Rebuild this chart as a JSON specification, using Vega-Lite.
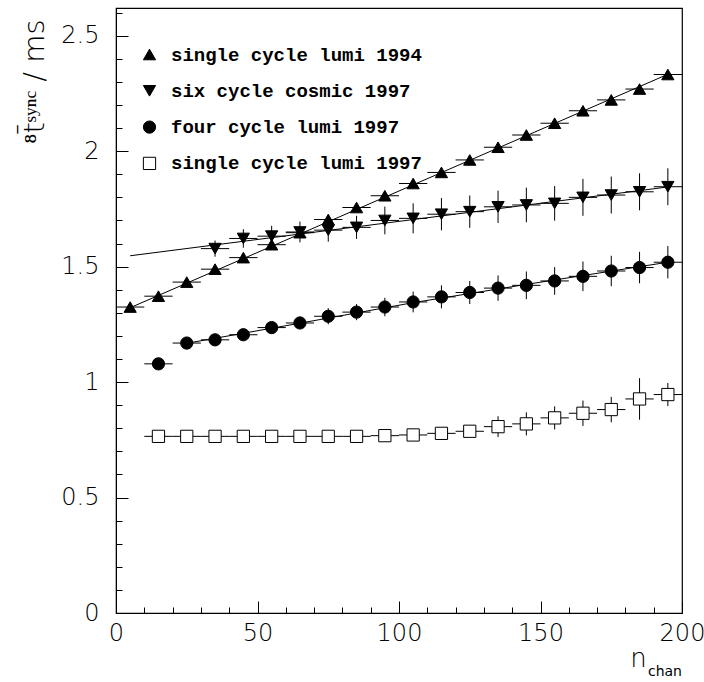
{
  "$schema": "https://vega.github.io/schema/vega-lite/v6.json",
  "width": 566,
  "height": 605,
  "autosize": "none",
  "padding": {"left": 116, "top": 8, "right": 22, "bottom": 69},
  "background": "white",
  "title": {"text": "chan", "orient": "bottom", "anchor": "end", "frame": "group", "fontSize": 14, "font": "DejaVu Sans", "fontWeight": "normal", "color": "black", "offset": -6},
  "config": {
    "view": {"stroke": "black", "strokeWidth": 1.2},
    "axis": {"grid": false, "domainColor": "black", "tickColor": "black", "labelColor": "black", "titleColor": "black", "labelFont": "DejaVu Sans", "titleFont": "DejaVu Sans", "labelFontWeight": 300, "titleFontWeight": 300, "labelOverlap": false, "labelFlush": false, "tickCount": 200},
    "legend": {"labelFont": "Liberation Mono", "labelFontWeight": "bold", "labelFontSize": 19, "labelLimit": 500, "labelColor": "black", "symbolStrokeWidth": 1, "symbolSize": 150, "rowPadding": 16.3, "labelOffset": 12, "padding": 0, "symbolOpacity": 1}
  },
  "datasets": {
    "points": [
      {"series": "single cycle lumi 1994", "x": 5, "y": 1.325, "xe": 5, "ye": 0.004},
      {"series": "single cycle lumi 1994", "x": 15, "y": 1.372, "xe": 5, "ye": 0.004},
      {"series": "single cycle lumi 1994", "x": 25, "y": 1.433, "xe": 5, "ye": 0.004},
      {"series": "single cycle lumi 1994", "x": 35, "y": 1.489, "xe": 5, "ye": 0.004},
      {"series": "single cycle lumi 1994", "x": 45, "y": 1.539, "xe": 5, "ye": 0.004},
      {"series": "single cycle lumi 1994", "x": 55, "y": 1.595, "xe": 5, "ye": 0.004},
      {"series": "single cycle lumi 1994", "x": 65, "y": 1.647, "xe": 5, "ye": 0.004},
      {"series": "single cycle lumi 1994", "x": 75, "y": 1.704, "xe": 5, "ye": 0.004},
      {"series": "single cycle lumi 1994", "x": 85, "y": 1.756, "xe": 5, "ye": 0.004},
      {"series": "single cycle lumi 1994", "x": 95, "y": 1.807, "xe": 5, "ye": 0.004},
      {"series": "single cycle lumi 1994", "x": 105, "y": 1.86, "xe": 5, "ye": 0.004},
      {"series": "single cycle lumi 1994", "x": 115, "y": 1.908, "xe": 5, "ye": 0.004},
      {"series": "single cycle lumi 1994", "x": 125, "y": 1.962, "xe": 5, "ye": 0.004},
      {"series": "single cycle lumi 1994", "x": 135, "y": 2.017, "xe": 5, "ye": 0.004},
      {"series": "single cycle lumi 1994", "x": 145, "y": 2.07, "xe": 5, "ye": 0.004},
      {"series": "single cycle lumi 1994", "x": 155, "y": 2.121, "xe": 5, "ye": 0.004},
      {"series": "single cycle lumi 1994", "x": 165, "y": 2.175, "xe": 5, "ye": 0.004},
      {"series": "single cycle lumi 1994", "x": 175, "y": 2.222, "xe": 5, "ye": 0.004},
      {"series": "single cycle lumi 1994", "x": 185, "y": 2.269, "xe": 5, "ye": 0.004},
      {"series": "single cycle lumi 1994", "x": 195, "y": 2.332, "xe": 5, "ye": 0.004},
      {"series": "six cycle cosmic 1997", "x": 35, "y": 1.578, "xe": 5, "ye": 0.035},
      {"series": "six cycle cosmic 1997", "x": 45, "y": 1.622, "xe": 5, "ye": 0.04},
      {"series": "six cycle cosmic 1997", "x": 55, "y": 1.632, "xe": 5, "ye": 0.045},
      {"series": "six cycle cosmic 1997", "x": 65, "y": 1.65, "xe": 5, "ye": 0.045},
      {"series": "six cycle cosmic 1997", "x": 75, "y": 1.658, "xe": 5, "ye": 0.05},
      {"series": "six cycle cosmic 1997", "x": 85, "y": 1.67, "xe": 5, "ye": 0.05},
      {"series": "six cycle cosmic 1997", "x": 95, "y": 1.7, "xe": 5, "ye": 0.06},
      {"series": "six cycle cosmic 1997", "x": 105, "y": 1.709, "xe": 5, "ye": 0.065},
      {"series": "six cycle cosmic 1997", "x": 115, "y": 1.727, "xe": 5, "ye": 0.07},
      {"series": "six cycle cosmic 1997", "x": 125, "y": 1.738, "xe": 5, "ye": 0.07},
      {"series": "six cycle cosmic 1997", "x": 135, "y": 1.759, "xe": 5, "ye": 0.07},
      {"series": "six cycle cosmic 1997", "x": 145, "y": 1.767, "xe": 5, "ye": 0.075},
      {"series": "six cycle cosmic 1997", "x": 155, "y": 1.774, "xe": 5, "ye": 0.075},
      {"series": "six cycle cosmic 1997", "x": 165, "y": 1.8, "xe": 5, "ye": 0.08},
      {"series": "six cycle cosmic 1997", "x": 175, "y": 1.81, "xe": 5, "ye": 0.08},
      {"series": "six cycle cosmic 1997", "x": 185, "y": 1.824, "xe": 5, "ye": 0.08},
      {"series": "six cycle cosmic 1997", "x": 195, "y": 1.846, "xe": 5, "ye": 0.08},
      {"series": "four cycle lumi 1997", "x": 15, "y": 1.079, "xe": 5, "ye": 0.005},
      {"series": "four cycle lumi 1997", "x": 25, "y": 1.169, "xe": 5, "ye": 0.005},
      {"series": "four cycle lumi 1997", "x": 35, "y": 1.183, "xe": 5, "ye": 0.01},
      {"series": "four cycle lumi 1997", "x": 45, "y": 1.205, "xe": 5, "ye": 0.015},
      {"series": "four cycle lumi 1997", "x": 55, "y": 1.236, "xe": 5, "ye": 0.02},
      {"series": "four cycle lumi 1997", "x": 65, "y": 1.256, "xe": 5, "ye": 0.025},
      {"series": "four cycle lumi 1997", "x": 75, "y": 1.285, "xe": 5, "ye": 0.035},
      {"series": "four cycle lumi 1997", "x": 85, "y": 1.303, "xe": 5, "ye": 0.035},
      {"series": "four cycle lumi 1997", "x": 95, "y": 1.325, "xe": 5, "ye": 0.04},
      {"series": "four cycle lumi 1997", "x": 105, "y": 1.347, "xe": 5, "ye": 0.045},
      {"series": "four cycle lumi 1997", "x": 115, "y": 1.369, "xe": 5, "ye": 0.05},
      {"series": "four cycle lumi 1997", "x": 125, "y": 1.388, "xe": 5, "ye": 0.05},
      {"series": "four cycle lumi 1997", "x": 135, "y": 1.407, "xe": 5, "ye": 0.055},
      {"series": "four cycle lumi 1997", "x": 145, "y": 1.419, "xe": 5, "ye": 0.06},
      {"series": "four cycle lumi 1997", "x": 155, "y": 1.438, "xe": 5, "ye": 0.06},
      {"series": "four cycle lumi 1997", "x": 165, "y": 1.458, "xe": 5, "ye": 0.064},
      {"series": "four cycle lumi 1997", "x": 175, "y": 1.481, "xe": 5, "ye": 0.066},
      {"series": "four cycle lumi 1997", "x": 185, "y": 1.496, "xe": 5, "ye": 0.068},
      {"series": "four cycle lumi 1997", "x": 195, "y": 1.519, "xe": 5, "ye": 0.07},
      {"series": "single cycle lumi 1997", "x": 15, "y": 0.765, "xe": 5, "ye": 0.002},
      {"series": "single cycle lumi 1997", "x": 25, "y": 0.765, "xe": 5, "ye": 0.002},
      {"series": "single cycle lumi 1997", "x": 35, "y": 0.765, "xe": 5, "ye": 0.002},
      {"series": "single cycle lumi 1997", "x": 45, "y": 0.765, "xe": 5, "ye": 0.002},
      {"series": "single cycle lumi 1997", "x": 55, "y": 0.765, "xe": 5, "ye": 0.002},
      {"series": "single cycle lumi 1997", "x": 65, "y": 0.765, "xe": 5, "ye": 0.002},
      {"series": "single cycle lumi 1997", "x": 75, "y": 0.765, "xe": 5, "ye": 0.002},
      {"series": "single cycle lumi 1997", "x": 85, "y": 0.765, "xe": 5, "ye": 0.002},
      {"series": "single cycle lumi 1997", "x": 95, "y": 0.768, "xe": 5, "ye": 0.003},
      {"series": "single cycle lumi 1997", "x": 105, "y": 0.771, "xe": 5, "ye": 0.005},
      {"series": "single cycle lumi 1997", "x": 115, "y": 0.778, "xe": 5, "ye": 0.01},
      {"series": "single cycle lumi 1997", "x": 125, "y": 0.787, "xe": 5, "ye": 0.025},
      {"series": "single cycle lumi 1997", "x": 135, "y": 0.807, "xe": 5, "ye": 0.045},
      {"series": "single cycle lumi 1997", "x": 145, "y": 0.819, "xe": 5, "ye": 0.05},
      {"series": "single cycle lumi 1997", "x": 155, "y": 0.845, "xe": 5, "ye": 0.05},
      {"series": "single cycle lumi 1997", "x": 165, "y": 0.865, "xe": 5, "ye": 0.055},
      {"series": "single cycle lumi 1997", "x": 175, "y": 0.881, "xe": 5, "ye": 0.055},
      {"series": "single cycle lumi 1997", "x": 185, "y": 0.927, "xe": 5, "ye": 0.09},
      {"series": "single cycle lumi 1997", "x": 195, "y": 0.946, "xe": 5, "ye": 0.05}
    ],
    "fits": [
      {"series": "single cycle lumi 1994", "x": 5, "y": 1.322},
      {"series": "single cycle lumi 1994", "x": 195, "y": 2.333},
      {"series": "six cycle cosmic 1997", "x": 5, "y": 1.547},
      {"series": "six cycle cosmic 1997", "x": 195, "y": 1.845},
      {"series": "four cycle lumi 1997", "x": 25, "y": 1.168},
      {"series": "four cycle lumi 1997", "x": 65, "y": 1.255},
      {"series": "four cycle lumi 1997", "x": 105, "y": 1.344},
      {"series": "four cycle lumi 1997", "x": 145, "y": 1.423},
      {"series": "four cycle lumi 1997", "x": 195, "y": 1.519}
    ]
  },
  "layer": [
    {
      "data": {"name": "points"},
      "mark": {"type": "errorbar", "ticks": false, "color": "black", "thickness": 1},
      "encoding": {
        "x": {"field": "x", "type": "quantitative", "title": "n", "scale": {"domain": [0, 200], "nice": false, "zero": false},
          "axis": {"values": [0,10,20,30,40,50,60,70,80,90,100,110,120,130,140,150,160,170,180,190,200], "tickCount": 200,
            "tickSize": {"condition": {"test": "datum.value % 50 === 0", "value": -12}, "value": -6},
            "labelExpr": "datum.value % 50 === 0 ? '' + datum.value : ''",
            "labelFontSize": 24, "labelPadding": 20, "title": "n", "titleFontSize": 26, "titleX": 522, "titleY": 53, "titleAlign": "center", "titleBaseline": "alphabetic"}},
        "xError": {"field": "xe"},
        "y": {"field": "y", "type": "quantitative", "title": "⁸t̄ˢʸⁿᶜ / ms", "scale": {"domain": [0, 2.62], "nice": false},
          "axis": {"values": [0,0.1,0.2,0.3,0.4,0.5,0.6,0.7,0.8,0.9,1,1.1,1.2,1.3,1.4,1.5,1.6,1.7,1.8,1.9,2,2.1,2.2,2.3,2.4,2.5,2.6], "tickCount": 200,
            "tickSize": {"condition": {"test": "abs(datum.value*2 - round(datum.value*2)) < 0.001", "value": -12}, "value": -6},
            "labelExpr": "abs(datum.value*2 - round(datum.value*2)) < 0.001 ? '' + datum.value : ''",
            "labelFontSize": 24, "labelPadding": 29, "title": "⁸t̄ˢʸⁿᶜ / ms", "titleFontSize": 29, "titleX": -82, "titleY": 73, "titleAlign": "center", "titleBaseline": "middle"}}
      }
    },
    {
      "data": {"name": "points"},
      "mark": {"type": "errorbar", "ticks": false, "color": "black", "thickness": 1},
      "encoding": {
        "x": {"field": "x", "type": "quantitative", "title": "n"},
        "y": {"field": "y", "type": "quantitative", "title": "⁸t̄ˢʸⁿᶜ / ms"},
        "yError": {"field": "ye"}
      }
    },
    {
      "data": {"name": "fits"},
      "mark": {"type": "line", "color": "black", "strokeWidth": 1},
      "encoding": {
        "x": {"field": "x", "type": "quantitative", "title": "n"},
        "y": {"field": "y", "type": "quantitative", "title": "⁸t̄ˢʸⁿᶜ / ms"},
        "detail": {"field": "series"}
      }
    },
    {
      "data": {"name": "points"},
      "mark": {"type": "point", "filled": false, "strokeWidth": 1, "opacity": 1, "size": 150},
      "encoding": {
        "x": {"field": "x", "type": "quantitative", "title": "n"},
        "y": {"field": "y", "type": "quantitative", "title": "⁸t̄ˢʸⁿᶜ / ms"},
        "shape": {"field": "series", "type": "nominal",
          "scale": {"domain": ["single cycle lumi 1994", "six cycle cosmic 1997", "four cycle lumi 1997", "single cycle lumi 1997"], "range": ["triangle-up", "triangle-down", "circle", "square"]},
          "legend": {"title": null, "orient": "none", "legendX": 24, "legendY": 37}},
        "fill": {"field": "series", "type": "nominal",
          "scale": {"domain": ["single cycle lumi 1994", "six cycle cosmic 1997", "four cycle lumi 1997", "single cycle lumi 1997"], "range": ["black", "black", "black", "white"]},
          "legend": {"title": null, "orient": "none", "legendX": 24, "legendY": 37}},
        "stroke": {"field": "series", "type": "nominal",
          "scale": {"domain": ["single cycle lumi 1994", "six cycle cosmic 1997", "four cycle lumi 1997", "single cycle lumi 1997"], "range": ["black", "black", "black", "black"]},
          "legend": {"title": null, "orient": "none", "legendX": 24, "legendY": 37}}
      }
    }
  ]
}
